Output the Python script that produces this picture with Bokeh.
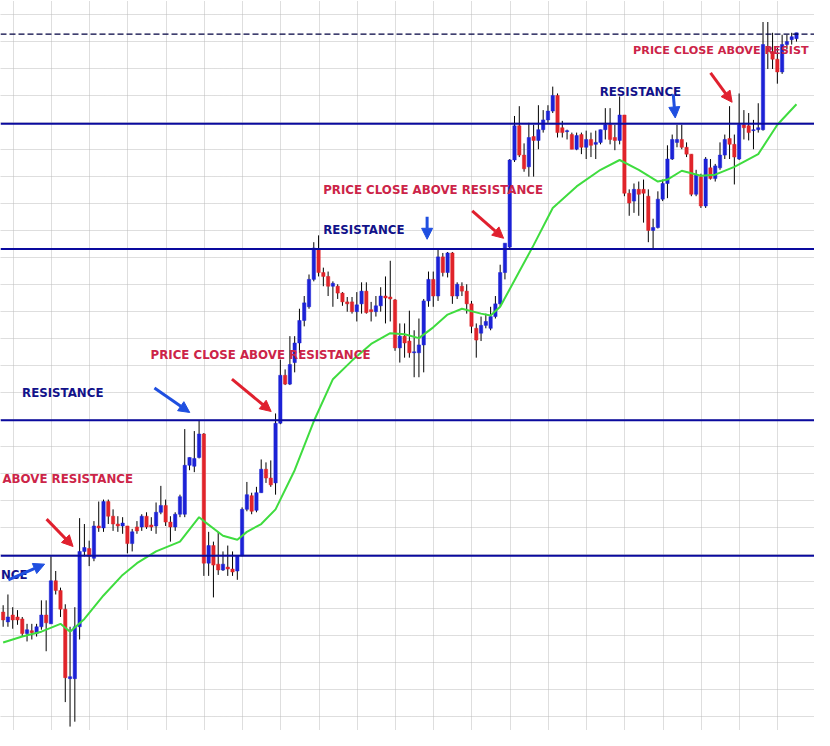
from bokeh.plotting import figure
from bokeh.models import ColumnDataSource, Grid, FixedTicker, Span, Arrow, NormalHead, Label
from bokeh.embed import file_html
from bokeh.resources import INLINE

# ---------------- data (price in chart points) ----------------
opens = [121, 111, 118, 116, 114, 99, 102, 99, 106, 118,
         109, 153, 143, 124, 53, 53, 106, 183, 186, 176,
         209, 207, 234, 219, 211, 209, 209, 191, 208, 208,
         219, 210, 209, 223, 230, 213, 208, 221, 221, 271,
         270, 279, 303, 171, 189, 170, 164, 167, 165, 163,
         179, 226, 240, 225, 243, 267, 258, 253, 314, 363,
         354, 376, 396, 419, 433, 461, 491, 468, 464, 454,
         454, 447, 438, 438, 428, 436, 449, 430, 428, 434,
         444, 443, 440, 391, 403, 398, 386, 386, 394, 439,
         461, 444, 484, 468, 488, 444, 454, 449, 436, 411,
         406, 414, 411, 423, 436, 468, 494, 583, 618, 588,
         576, 607, 603, 614, 624, 633, 649, 616, 612, 609,
         594, 609, 596, 604, 599, 601, 614, 619, 606, 603,
         629, 549, 541, 553, 553, 546, 511, 514, 543, 559,
         584, 601, 604, 596, 589, 548, 566, 536, 575, 564,
         575, 588, 605, 599, 584, 619, 618, 613, 614, 614,
         698, 694, 686, 673, 701, 706, 707]
highs = [128, 139, 126, 123, 116, 109, 109, 109, 133, 133,
         178, 163, 146, 129, 106, 126, 217, 211, 194, 214,
         234, 236, 236, 226, 219, 218, 209, 206, 214, 221,
         223, 218, 233, 250, 236, 219, 223, 241, 308, 279,
         306, 317, 304, 203, 193, 203, 183, 189, 183, 178,
         228, 254, 243, 249, 277, 274, 276, 324, 379, 369,
         403, 403, 431, 444, 466, 499, 506, 473, 469, 459,
         456, 448, 443, 443, 448, 458, 458, 438, 444, 453,
         464, 480, 441, 416, 416, 429, 409, 421, 441, 469,
         469, 493, 488, 489, 489, 458, 458, 456, 439, 416,
         423, 426, 433, 444, 476, 498, 584, 628, 638, 600,
         621, 619, 639, 634, 639, 658, 651, 623, 614, 611,
         611, 611, 613, 611, 613, 614, 636, 636, 619, 648,
         629, 553, 559, 561, 563, 553, 523, 551, 563, 598,
         609, 619, 619, 601, 589, 573, 569, 586, 584, 579,
         601, 609, 638, 609, 651, 634, 631, 624, 641, 724,
         724, 713, 698, 711, 711, 713, 713]
lows = [106, 106, 104, 108, 96, 91, 93, 96, 103, 81,
        109, 139, 116, 29, 4, 9, 93, 178, 168, 173,
        203, 203, 211, 204, 203, 201, 181, 183, 201, 204,
        206, 204, 201, 221, 209, 193, 204, 218, 218, 266,
        264, 278, 158, 158, 136, 159, 163, 158, 158, 154,
        178, 224, 221, 223, 243, 253, 249, 241, 313, 353,
        353, 366, 386, 413, 431, 459, 464, 454, 444, 433,
        441, 434, 428, 426, 418, 426, 426, 418, 423, 428,
        416, 418, 388, 376, 381, 381, 361, 361, 366, 433,
        433, 439, 464, 463, 436, 441, 444, 426, 406, 381,
        398, 411, 409, 421, 433, 461, 491, 581, 586, 571,
        566, 566, 594, 611, 621, 631, 606, 606, 604, 594,
        593, 589, 584, 586, 584, 599, 604, 599, 593, 599,
        546, 526, 529, 526, 519, 499, 493, 513, 541, 544,
        583, 596, 594, 586, 546, 546, 534, 534, 563, 561,
        573, 584, 584, 558, 583, 604, 603, 594, 611, 613,
        676, 676, 661, 671, 696, 701, 704]
closes = [113, 116, 113, 113, 99, 103, 100, 106, 118, 110,
          153, 143, 124, 54, 55, 106, 183, 187, 178, 209,
          207, 234, 219, 211, 209, 212, 191, 203, 204, 219,
          208, 208, 223, 230, 213, 208, 221, 239, 271, 279,
          278, 303, 171, 189, 169, 164, 170, 165, 162, 178,
          226, 241, 224, 243, 267, 258, 251, 314, 363, 354,
          374, 396, 419, 437, 461, 493, 468, 464, 454, 457,
          447, 438, 436, 428, 435, 449, 427, 428, 434, 444,
          442, 441, 391, 403, 396, 386, 387, 394, 439, 461,
          444, 484, 468, 488, 444, 456, 449, 436, 413, 399,
          414, 418, 423, 436, 468, 498, 583, 618, 588, 574,
          606, 603, 614, 624, 633, 649, 611, 611, 613, 594,
          608, 596, 604, 598, 601, 614, 619, 604, 603, 629,
          549, 539, 553, 548, 549, 511, 514, 543, 559, 584,
          604, 604, 596, 589, 548, 568, 536, 584, 564, 577,
          588, 604, 599, 586, 619, 616, 611, 614, 616, 701,
          694, 686, 673, 701, 704, 709, 713]

# moving average (at these bar numbers)
ma_idx = [0, 4, 8, 12, 14, 17, 21, 25, 28, 32, 37, 41, 42, 46, 49, 51, 54, 57,
          61, 65, 69, 73, 77, 81, 84, 87, 90, 93, 96, 100, 102, 104, 108, 111,
          115, 120, 125, 129, 133, 137, 139, 142, 146, 149, 153, 158, 162, 166]
ma_val = [90, 96, 101, 109, 101, 114, 138, 159, 171, 183, 193, 218, 214, 199, 195, 203, 211, 226,
          266, 316, 359, 378, 395, 406, 405, 401, 412, 425, 431, 426, 424, 433, 469, 496,
          534, 556, 573, 583, 573, 561, 563, 572, 567, 568, 576, 589, 619, 640]

resistance_levels = [620, 492, 317, 178.5]
last_price_level = 711.7

# ---------------- styling ----------------
BULL = "#1c22d6"
BEAR = "#e0242a"
NAVY_TEXT = "#12128a"
RED_TEXT = "#cc2448"
BLUE_ARROW = "#1f4fe0"
RED_ARROW = "#e0202e"
LINE_BLUE = "#0a0a9e"
MA_GREEN = "#3fdc3f"
FONT = "DejaVu Sans"

n = len(opens)
idx = list(range(n))
colors = [BULL if c >= o else BEAR for o, c in zip(opens, closes)]
src = ColumnDataSource(dict(
    x=idx, o=opens, h=highs, l=lows, c=closes,
    top=[max(o, c) for o, c in zip(opens, closes)],
    bottom=[min(o, c) for o, c in zip(opens, closes)],
    color=colors,
))

# reference picture geometry helpers (pixels of the 830x746 image -> data units)
BAR_PX = 4.873
X0_PX = 2.7


def dx(px):
    return (px - X0_PX) / BAR_PX


def dy(py):
    return 746 - py


p = figure(width=814, height=730, x_range=(dx(0), dx(830)), y_range=(0, 746),
           toolbar_location=None, output_backend="svg",
           x_axis_location=None, y_axis_location=None, min_border=0)
p.outline_line_color = None
p.background_fill_color = "white"
p.border_fill_color = "white"
p.grid.visible = False

xt = [2.1 + 8 * k for k in range(22)]
yt = [14.4 + 27.6 * k for k in range(28)]
for dim, ticks in ((0, xt), (1, yt)):
    g = Grid(dimension=dim, ticker=FixedTicker(ticks=ticks),
             grid_line_color="#bdbdbd", grid_line_dash="1 1", grid_line_width=1)
    p.add_layout(g)

for lvl in resistance_levels:
    p.add_layout(Span(location=lvl, dimension="width", line_color=LINE_BLUE, line_width=2))
p.add_layout(Span(location=last_price_level, dimension="width", line_color="#000040",
                  line_width=1.3, line_dash="6 3"))

# candles
p.segment(x0="x", y0="h", x1="x", y1="l", source=src, line_color="black", line_width=1)
p.vbar(x="x", top="top", bottom="bottom", width=0.7, source=src,
       fill_color="color", line_color="color", line_width=0.5)

# moving average
p.line(ma_idx, ma_val, line_color=MA_GREEN, line_width=2)


def label(px, py, text, color, align="left", size="11.8px"):
    p.add_layout(Label(x=dx(px), y=dy(py), text=text, text_align=align,
                       text_baseline="middle", text_font=FONT, text_font_style="bold",
                       text_font_size=size, text_color=color))


def arrow(x1, y1, x2, y2, color):
    p.add_layout(Arrow(x_start=dx(x1), y_start=dy(y1), x_end=dx(x2), y_end=dy(y2),
                       line_color=color, line_width=3,
                       end=NormalHead(size=11, fill_color=color, line_color=color, line_width=1)))


# texts as they are visible in the picture (partly outside the chart window)
label(0.5, 587.5, "NCE", NAVY_TEXT)
label(2, 489, "ABOVE RESISTANCE", RED_TEXT)
label(22, 401, "RESISTANCE", NAVY_TEXT)
label(153, 362, "PRICE CLOSE ABOVE RESISTANCE", RED_TEXT)
label(329, 235, "RESISTANCE", NAVY_TEXT)
label(329, 194, "PRICE CLOSE ABOVE RESISTANCE", RED_TEXT)
label(611, 93, "RESISTANCE", NAVY_TEXT)
label(645, 51, "PRICE CLOSE ABOVE RESIST", RED_TEXT, size="11.2px")

arrow(8, 592, 45, 576, BLUE_ARROW)
arrow(47, 530, 74, 558, RED_ARROW)
arrow(157, 396, 193, 421, BLUE_ARROW)
arrow(236, 387, 276, 420, RED_ARROW)
arrow(435, 221, 435, 244, BLUE_ARROW)
arrow(481, 215, 513, 243, RED_ARROW)
arrow(686, 96, 688, 120, BLUE_ARROW)
arrow(724, 74, 746, 104, RED_ARROW)

open("out.html", "w").write(file_html(p, INLINE, "Resistance breakout"))
